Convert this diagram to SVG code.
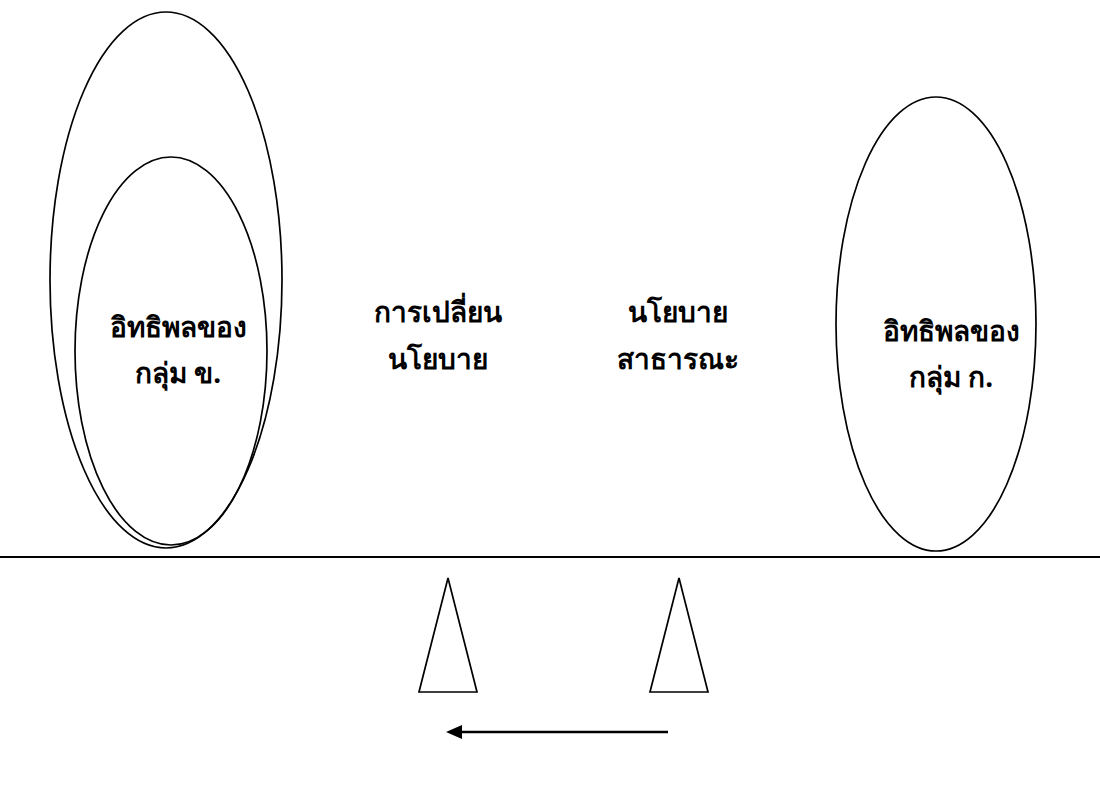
<svg xmlns="http://www.w3.org/2000/svg" width="1100" height="796" viewBox="0 0 1100 796">
<defs>
<style>
.s{fill:none;stroke:#000;stroke-width:1.7}
.t{font-family:"Noto Sans","DejaVu Sans",sans-serif;font-size:28px;font-weight:bold;fill:#000;text-anchor:middle}
</style>
</defs>
<rect width="1100" height="796" fill="#fff"/>
<g id="groupB">
<ellipse class="s" cx="166" cy="280" rx="116" ry="268"/>
<ellipse class="s" cx="171" cy="351" rx="96" ry="194"/>
<text class="t" x="178" y="337">อิทธิพลของ</text>
<text class="t" x="178" y="383">กลุ่ม ข.</text>
</g>
<g id="change">
<text class="t" x="438" y="322">การเปลี่ยน</text>
<text class="t" x="438" y="369">นโยบาย</text>
</g>
<g id="policy">
<text class="t" x="678" y="322">นโยบาย</text>
<text class="t" x="678" y="369">สาธารณะ</text>
</g>
<g id="groupA">
<ellipse class="s" cx="936" cy="324" rx="100" ry="227"/>
<text class="t" x="951" y="341">อิทธิพลของ</text>
<text class="t" x="951" y="387">กลุ่ม ก.</text>
</g>
<g id="base">
<line x1="0" y1="557" x2="1100" y2="557" stroke="#000" stroke-width="2"/>
<polygon class="s" points="448,578 419,692 477,692"/>
<polygon class="s" points="679,578 650,692 708,692"/>
</g>
<g id="connectors">
<path d="M668,732 L456,732" stroke="#000" stroke-width="2.5" fill="none"/>
<path d="M446,732 L462,725 L462,739 z" fill="#000"/>
</g>
</svg>
